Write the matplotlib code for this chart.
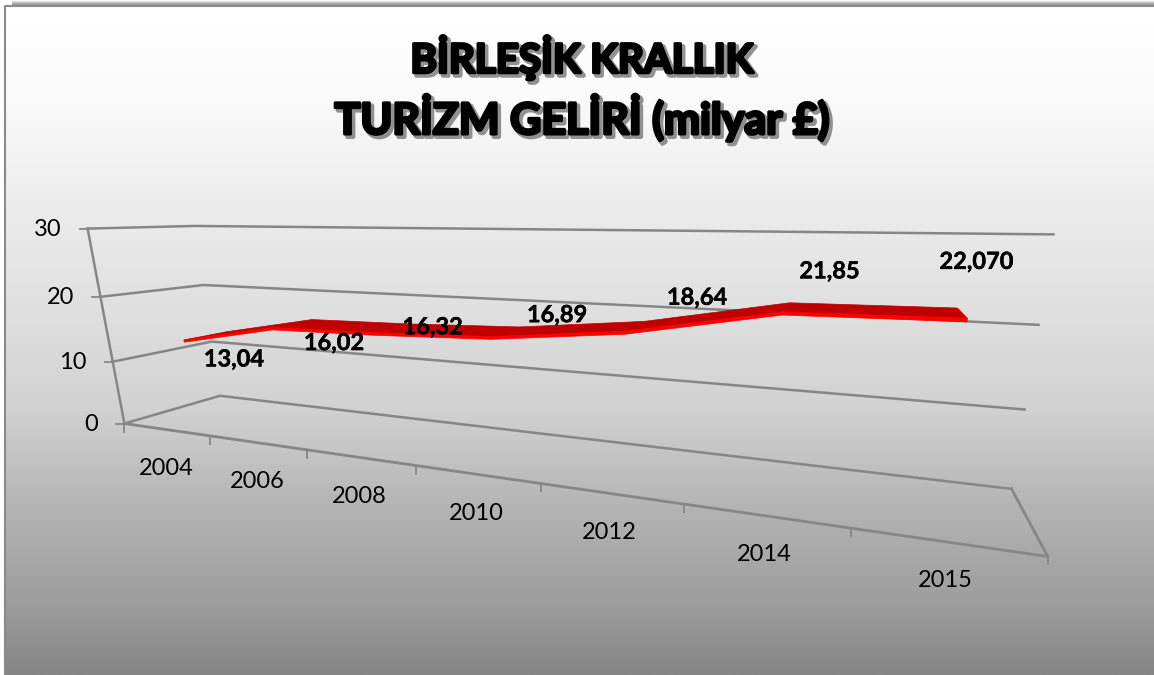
import numpy as np
import matplotlib
matplotlib.use("Agg")
import matplotlib.pyplot as plt
import matplotlib.patheffects as pe
from matplotlib.colors import LinearSegmentedColormap
from matplotlib.patches import Polygon

years = ["2004", "2006", "2008", "2010", "2012", "2014", "2015"]
income = [13.04, 16.02, 16.32, 16.89, 18.64, 21.85, 22.07]
income_labels = ["13,04", "16,02", "16,32", "16,89", "18,64", "21,85", "22,070"]
y_ticks = [0, 10, 20, 30]
title_lines = ["BİRLEŞİK KRALLIK", "TURİZM GELİRİ (milyar £)"]

W, H = 1154, 675
FONT = "Lato"
GRID = "#868686"

# 3D box corners (category 0-1, depth 0-1, value) and where they land on the picture
box_world = [
    (0, 0, 0), (0, 0, 10), (0, 0, 20), (0, 0, 30),
    (0, 1, 0), (0, 1, 10), (0, 1, 20), (0, 1, 30),
    (1, 1, 0), (1, 1, 10), (1, 1, 20), (1, 1, 30),
    (1, 0, 0),
]
box_pixel = [
    (124, 423), (113, 362), (101, 297), (87, 229),
    (220, 396), (212, 342), (203, 284), (195, 226),
    (1011, 489), (1025, 410), (1039, 325), (1053, 234),
    (1048, 556),
]


def fit_camera(world, pixel):
    rows = []
    for (a, b, c), (x, y) in zip(world, pixel):
        c = c / 30
        rows.append([a, b, c, 1, 0, 0, 0, 0, -x * a, -x * b, -x * c, -x])
        rows.append([0, 0, 0, 0, a, b, c, 1, -y * a, -y * b, -y * c, -y])
    # smallest singular vector is the camera matrix
    return np.linalg.svd(np.array(rows, dtype=float))[2][-1].reshape(3, 4)


CAM = fit_camera(box_world, box_pixel)


def project(u, d, v):
    p = CAM @ np.array([u, d, v / 30, 1.0])
    return p[0] / p[2], p[1] / p[2]


fig = plt.figure(figsize=(W / 100, H / 100), dpi=100)
ax = fig.add_axes([0, 0, 1, 1])

# background gradient
bg = LinearSegmentedColormap.from_list(
    "bg",
    [(0, "#ffffff"), (0.13, "#fbfbfb"), (0.3, "#ececec"), (0.45, "#e0e0e0"),
     (0.6, "#d2d2d2"), (0.75, "#b4b4b4"), (0.9, "#9c9c9c"), (1, "#868686")],
)
ax.imshow(np.linspace(0, 1, 256).reshape(-1, 1), cmap=bg, extent=(5, W, H, 7), aspect="auto", zorder=0)

# frame and soft shadow on top
shadow = LinearSegmentedColormap.from_list("sh", ["#ffffff", "#b8b8b8", "#8a8a8a"])
ax.imshow(np.linspace(0, 1, 8).reshape(-1, 1), cmap=shadow, extent=(12, W, 6, 0), aspect="auto", zorder=1)
ax.set_xlim(0, W)
ax.set_ylim(H, 0)
ax.axis("off")
ax.plot([5, 5, W], [H, 6, 6], color="#8a8a8a", lw=1.5, zorder=2)

# gridlines on the two walls
for v in y_ticks:
    pts = [project(0, 0, v), project(0, 1, v), project(1, 1, v)]
    ax.plot(*zip(*pts), color=GRID, lw=1.8, zorder=3, solid_joinstyle="miter")
    x0, y0 = pts[0]
    ax.plot([x0 - 8, x0], [y0, y0], color=GRID, lw=1.3, zorder=3)
    ax.text(x0 - 26, y0 + 1, str(v), ha="right", va="center", fontsize=17,
            family=FONT, color="black", zorder=6)

# walls and floor edges
ax.plot(*zip(project(0, 0, 0), project(0, 0, 30)), color=GRID, lw=1.8, zorder=3)
floor = [project(0, 0, 0), project(1, 0, 0), project(1, 1, 0)]
ax.plot(*zip(*floor), color=GRID, lw=2.0, zorder=3)

n = len(years)
for i in range(n + 1):
    x0, y0 = project(i / n, 0, 0)
    ax.plot([x0, x0], [y0, y0 + 8], color=GRID, lw=1.3, zorder=3)
for i, yr in enumerate(years):
    x0, y0 = project((i + 0.5) / n, 0, 0)
    ax.text(x0, y0 + 39, yr, ha="center", va="center", fontsize=17,
            family=FONT, color="black", zorder=6)

# the 3D line as a ribbon: dark top, bright front
D_FRONT, D_BACK = 0.3, 0.75
THICK = 0.35
u_pos = [(i + 0.5) / n for i in range(n)]
front = [project(u, D_FRONT, v) for u, v in zip(u_pos, income)]
back = [project(u, D_BACK, v) for u, v in zip(u_pos, income)]
lower = [project(u, D_FRONT, v - THICK) for u, v in zip(u_pos, income)]
ax.add_patch(Polygon(front + back[::-1], closed=True, fc="#c00000", ec="#c00000", lw=0.5, zorder=4))
ax.add_patch(Polygon(lower + front[::-1], closed=True, fc="#ff0000", ec="#ff0000", lw=0.5, zorder=5))

# data labels were dragged by hand in the original, so they sit at their own offsets
label_offsets = [(50, 19), (62, 15), (58, -6), (66, -22), (72, -34), (47, -41), (9, -57)]
for (x0, y0), txt, (dx, dy) in zip(front, income_labels, label_offsets):
    t = ax.text(x0 + dx, y0 + dy, txt, ha="center", va="center", fontsize=17,
                fontweight="bold", family=FONT, color="black", zorder=7)
    t.set_path_effects([pe.withStroke(linewidth=0.3, foreground="black")])

# title with heavy stroke and grey drop shadow
for line, yc, size in zip(title_lines, [58, 117], [29, 31]):
    t = ax.text(W / 2 + 5, yc, line, ha="center", va="center", fontsize=size,
                fontweight="bold", family=FONT, color="black", zorder=8)
    t.set_path_effects([
        pe.SimpleLineShadow(offset=(2, -2), shadow_color="#777777", alpha=0.8, linewidth=3.2),
        pe.Stroke(linewidth=2.2, foreground="black"),
        pe.Normal(),
    ])

fig.savefig("out.png", dpi=100)
